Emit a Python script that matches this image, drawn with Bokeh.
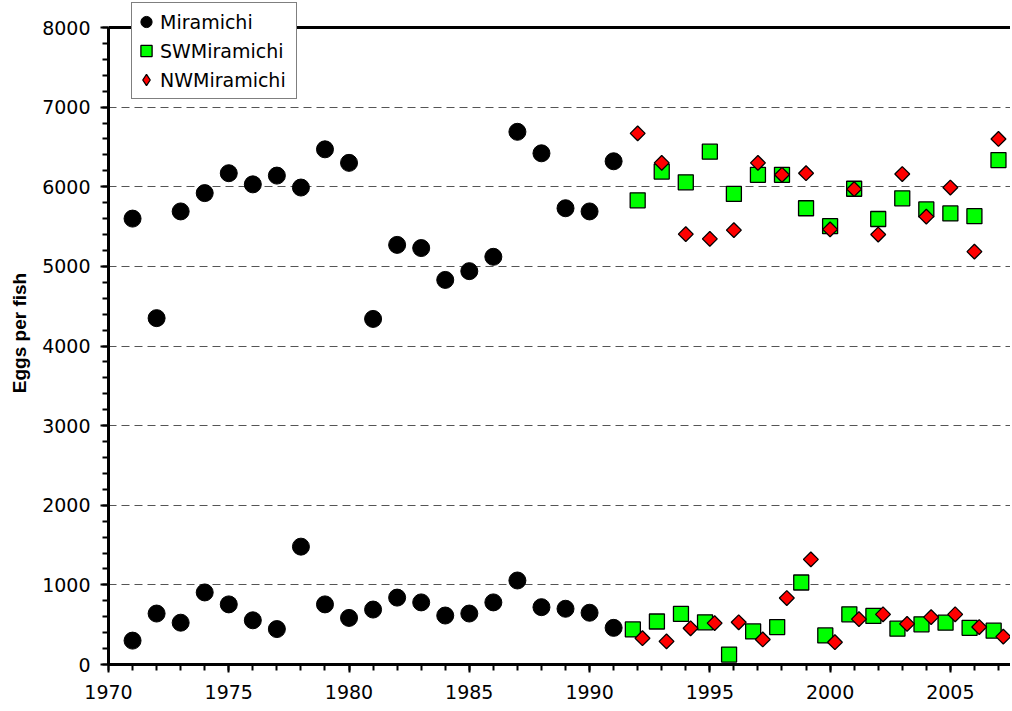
import math
from bokeh.plotting import figure
from bokeh.models import (ColumnDataSource, Legend, LegendItem, SingleIntervalTicker,
                          Span, Range1d)
from bokeh.transform import dodge
from bokeh.embed import file_html
from bokeh.resources import INLINE

# ---------------- data ----------------
years_mir = list(range(1971, 1992))
mir_upper = [5600, 4350, 5690, 5920, 6170, 6030, 6140, 5990, 6470, 6300, 4340,
             5270, 5230, 4830, 4940, 5120, 6690, 6420, 5730, 5690, 6320]
mir_lower = [300, 640, 525, 905, 755, 555, 445, 1480, 755, 585, 690,
             840, 780, 615, 640, 780, 1055, 720, 700, 650, 460]

years_trib = list(range(1992, 2008))
sw_upper = [5830, 6190, 6055, 6440, 5910, 6150, 6150, 5730, 5505, 5975, 5595,
            5855, 5715, 5665, 5630, 6335]
sw_lower = [440, 540, 635, 530, 125, 415, 470, 1030, 365, 630, 610,
            450, 505, 525, 460, 425]
nw_upper = [6670, 6300, 5405, 5345, 5455, 6300, 6150, 6170, 5465, 5970, 5400,
            6160, 5625, 5990, 5185, 6600]
nw_lower = [330, 290, 455, 520, 530, 315, 835, 1320, 280, 570, 630,
            510, 595, 630, 470, 350]

labels = ["Miramichi", "SWMiramichi", "NWMiramichi"]
y_title = "Eggs per fish"
y_max = 8000

# ---------------- layout geometry ----------------
FRAME_TOP_AXIS = 27     # where the 8000 line sits
FRAME_TOP = 1           # frame extended upward so the legend is not clipped
FRAME_BOTTOM = 664
y_end = y_max * (FRAME_BOTTOM - FRAME_TOP) / (FRAME_BOTTOM - FRAME_TOP_AXIS)

p = figure(width=1010, height=708, output_backend="svg", toolbar_location=None,
           x_range=Range1d(1970, 2007.5), y_range=Range1d(0, y_end),
           min_border_left=108, min_border_right=0, min_border_top=FRAME_TOP,
           min_border_bottom=708 - FRAME_BOTTOM)
p.outline_line_color = None
p.background_fill_color = "white"

src_mu = ColumnDataSource(dict(x=years_mir, y=mir_upper))
src_ml = ColumnDataSource(dict(x=years_mir, y=mir_lower))
src_su = ColumnDataSource(dict(x=years_trib, y=sw_upper))
src_sl = ColumnDataSource(dict(x=years_trib, y=sw_lower))
src_nu = ColumnDataSource(dict(x=years_trib, y=nw_upper))
src_nl = ColumnDataSource(dict(x=years_trib, y=nw_lower))

circ = dict(marker="circle", size=17, fill_color="black", line_color="black")
sq = dict(marker="square", size=15, fill_color="#00FF00", line_color="black",
          line_width=1.3)
dia = dict(marker="square", size=10.5, angle=math.pi / 4, fill_color="#FF0000",
           line_color="black", line_width=1.3)

r_mu = p.scatter("x", "y", source=src_mu, **circ)
r_ml = p.scatter("x", "y", source=src_ml, **circ)
r_su = p.scatter("x", "y", source=src_su, **sq)
r_sl = p.scatter(dodge("x", -0.2, range=p.x_range), "y", source=src_sl, **sq)
r_nu = p.scatter("x", "y", source=src_nu, **dia)
r_nl = p.scatter(dodge("x", 0.2, range=p.x_range), "y", source=src_nl, **dia)
# legend-only renderer (diamond shape for the key)
r_nleg = p.scatter("x", "y", source=src_nu, marker="diamond", size=16,
                   fill_color="#FF0000", line_color="black", line_width=1.3,
                   visible=False)

# top frame line at 8000
p.add_layout(Span(location=y_max, dimension="width", line_color="black",
                  line_width=3))

# ---------------- axes ----------------
p.xaxis.ticker = SingleIntervalTicker(interval=5, num_minor_ticks=5)
p.yaxis.ticker = SingleIntervalTicker(interval=1000, num_minor_ticks=5)
p.yaxis.bounds = (0, y_max)
p.ygrid.bounds = (0, y_max)
for ax in (p.xaxis, p.yaxis):
    ax.axis_line_width = 3
    ax.axis_line_color = "black"
    ax.major_tick_in = 0
    ax.major_tick_out = 8
    ax.minor_tick_in = 0
    ax.minor_tick_out = 6
    ax.major_tick_line_width = 2
    ax.minor_tick_line_width = 2
    ax.major_tick_line_color = "black"
    ax.minor_tick_line_color = "black"
    ax.major_label_text_font = "DejaVu Sans"
    ax.major_label_text_font_size = "19px"
    ax.major_label_text_color = "black"
p.xaxis.major_label_standoff = 12
p.yaxis.major_label_standoff = 10
p.yaxis.axis_label = y_title
p.yaxis.axis_label_text_font = "Liberation Sans"
p.yaxis.axis_label_text_font_style = "bold"
p.yaxis.axis_label_text_font_size = "19px"
p.yaxis.axis_label_text_color = "black"
p.yaxis.axis_label_standoff = 9

p.xgrid.grid_line_color = None
p.ygrid.grid_line_color = "#555555"
p.ygrid.grid_line_width = 1
p.ygrid.grid_line_dash = "8 5"

# ---------------- legend ----------------
legend = Legend(
    items=[LegendItem(label=labels[0], renderers=[r_mu]),
           LegendItem(label=labels[1], renderers=[r_su]),
           LegendItem(label=labels[2], renderers=[r_nleg])],
    location=(23, 565), orientation="vertical",
    padding=dict(left=0, right=4, top=4, bottom=4), margin=0,
    spacing=0, glyph_width=28, glyph_height=29, label_height=20,
    label_standoff=0, label_width=132,
    label_text_font="DejaVu Sans", label_text_font_size="19px",
    label_text_color="black",
    border_line_color="black", border_line_width=1,
    background_fill_color="white", background_fill_alpha=1.0)
p.add_layout(legend, "center")

open("out.html", "w").write(file_html(p, INLINE))
